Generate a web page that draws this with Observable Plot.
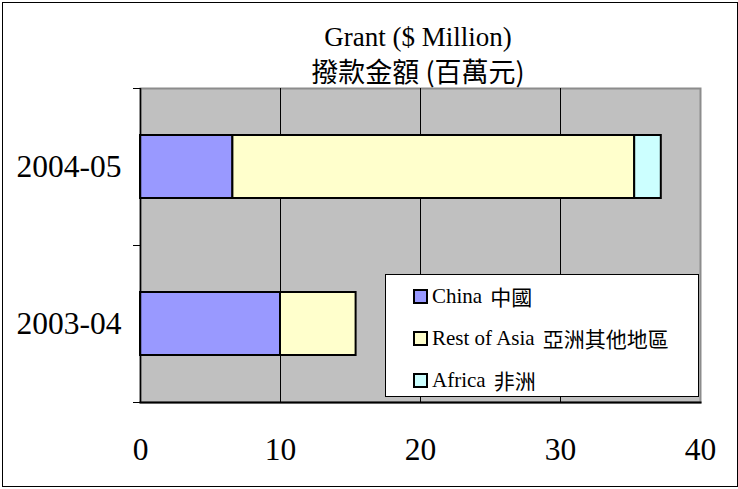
<!DOCTYPE html>
<html>
<head>
<meta charset="utf-8">
<script src="https://cdn.jsdelivr.net/npm/d3@7"></script>
<script src="https://cdn.jsdelivr.net/npm/@observablehq/plot@0.6"></script>
<style>
  body { margin: 0; background: #fff; }
  #wrap { position: relative; width: 738px; height: 489px; overflow: hidden; }
  #border { position: absolute; left: 2px; top: 2px; width: 736px; height: 485px; border: 1px solid #000; box-sizing: border-box; pointer-events: none; }
  .title { position: absolute; left: 218px; width: 400px; text-align: center; color: #000; white-space: nowrap; }
  #t1 { top: 24px; font-family: "Liberation Serif", serif; font-size: 27px; line-height: 27px; }
  #t2 { top: 57px; font-family: "Noto Sans CJK TC", sans-serif; font-size: 27px; line-height: 27px; }
  #legend { position: absolute; left: 385px; top: 274px; width: 314px; height: 123px; background: #fff; border: 1px solid #000; box-sizing: border-box; }
  .item { position: absolute; left: 27px; height: 24px; display: flex; align-items: center; font-family: "Liberation Serif", serif; font-size: 21px; color: #000; white-space: nowrap; }
  .sw { width: 11px; height: 11px; border: 2px solid #000; margin-right: 4px; flex: none; }
  .cjk { font-family: "Noto Sans CJK TC", sans-serif; font-size: 21px; margin-left: 8px; }
</style>
</head>
<body>
<div id="wrap"></div>
<script>
const years = ["2004-05", "2003-04"];
const regions = ["China", "Rest of Asia", "Africa"];
const regionLabels = ["中國", "亞洲其他地區", "非洲"];
const colors = ["#9999ff", "#ffffcc", "#ccffff"];
const china = [6.6, 10.0];
const restOfAsia = [28.7, 5.4];
const africa = [1.9, 0];
const xTicks = [0, 10, 20, 30, 40];
const titleLines = ["Grant ($ Million)", "撥款金額 (百萬元)"];

const series = [china, restOfAsia, africa];
const data = [];
years.forEach((y, i) => {
  regions.forEach((r, j) => {
    if (series[j][i] > 0) data.push({year: y, region: r, value: series[j][i]});
  });
});

const chart = Plot.plot({
  width: 738,
  height: 489,
  marginLeft: 140,
  marginRight: 38,
  marginTop: 88,
  marginBottom: 87,
  style: {background: "transparent", overflow: "visible"},
  x: {domain: [0, 40], ticks: xTicks, label: null},
  y: {domain: years, paddingInner: 0.6, paddingOuter: 0.3, label: null},
  color: {domain: regions, range: colors},
  marks: [
    Plot.frame({fill: "#c0c0c0", stroke: "#8c8c8c", strokeWidth: 2}),
    Plot.gridX(xTicks.slice(1, -1), {stroke: "#000", strokeOpacity: 1, strokeWidth: 1}),
    Plot.barX(data, {x: "value", y: "year", fill: "region", stroke: "#000", strokeWidth: 2}),
    Plot.ruleX([0], {stroke: "#000", strokeWidth: 1.5}),
    Plot.frame({anchor: "bottom", stroke: "#000", strokeWidth: 2}),
    Plot.ruleY(years, {y: d => d, dy: -78.5, x1: -0.5, x2: 0, stroke: "#000"}),
    Plot.ruleY(years, {y: d => d, dy: 78.5, x1: -0.5, x2: 0, stroke: "#000"}),
    Plot.axisX({ticks: xTicks, tickSize: 0, tickPadding: 35, fontSize: 31.5, fontFamily: "Liberation Serif", label: null, tickFormat: d => d, fill: "#000"}),
    Plot.axisY({tickSize: 0, tickPadding: 19, fontSize: 31.5, fontFamily: "Liberation Serif", label: null, fill: "#000"})
  ]
});

const wrap = document.getElementById("wrap");
chart.style.position = "absolute";
chart.style.left = "0px";
chart.style.top = "0px";
wrap.appendChild(chart);

titleLines.forEach((t, i) => {
  const d = document.createElement("div");
  d.className = "title";
  d.id = "t" + (i + 1);
  d.textContent = t;
  wrap.appendChild(d);
});

const border = document.createElement("div");
border.id = "border";
wrap.appendChild(border);

const legend = document.createElement("div");
legend.id = "legend";
const rowTops = [9, 51, 93];
regions.forEach((r, i) => {
  const item = document.createElement("div");
  item.className = "item";
  item.style.top = rowTops[i] + "px";
  const sw = document.createElement("span");
  sw.className = "sw";
  sw.style.background = colors[i];
  const t = document.createElement("span");
  t.textContent = r;
  const c = document.createElement("span");
  c.className = "cjk";
  c.textContent = regionLabels[i];
  item.appendChild(sw);
  item.appendChild(t);
  item.appendChild(c);
  legend.appendChild(item);
});
wrap.appendChild(legend);
</script>
</body>
</html>
